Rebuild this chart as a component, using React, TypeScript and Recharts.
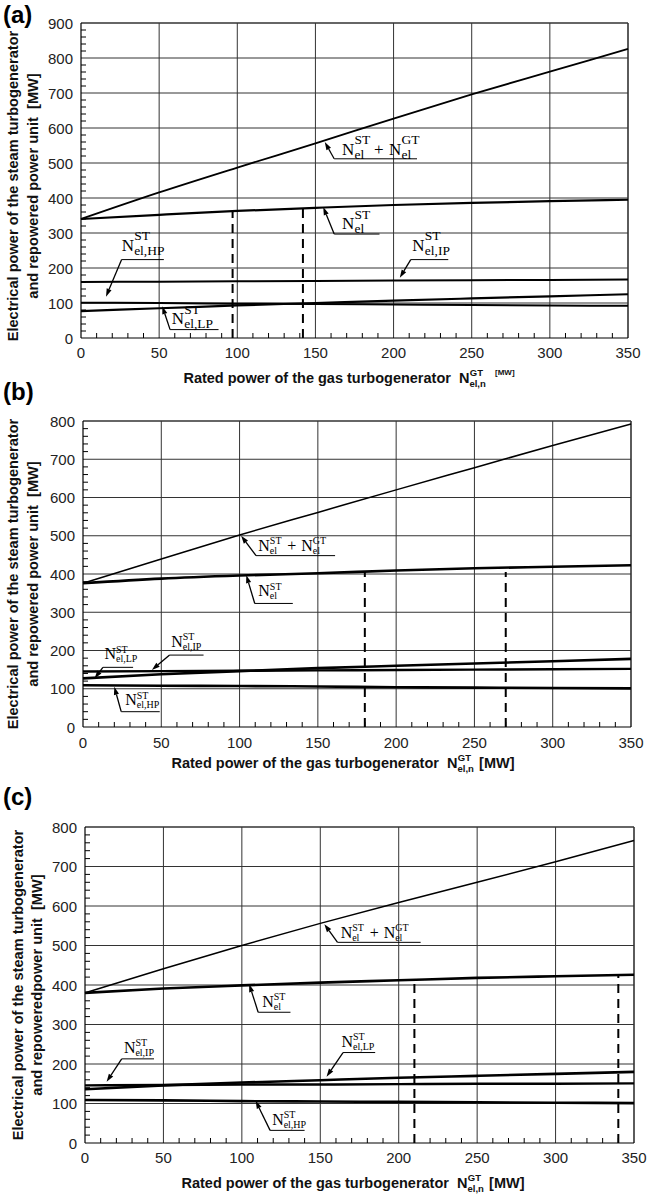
import React from "react";
import { LineChart, Line, XAxis, YAxis, ReferenceLine, ReferenceDot } from "recharts";

// rated power of the gas turbogenerator [MW]
const gasPower = [0, 50, 100, 150, 200, 250, 300, 350];
const xMajor = [0, 50, 100, 150, 200, 250, 300, 350];
const yMajorA = [0, 100, 200, 300, 400, 500, 600, 700, 800, 900];
const yMajorBC = [0, 100, 200, 300, 400, 500, 600, 700, 800];

// panel (a)
const totalA = [340, 416, 487, 556, 627, 696, 761, 826];
const steamA = [340, 352, 363, 372, 380, 386, 391, 395];
const ipA = [160, 161, 162, 163, 164, 165, 166, 167];
const lpA = [77, 85, 93, 100, 107, 113, 119, 125];
const hpA = [101, 100, 98, 97, 96, 94, 93, 92];
const cutA = [97, 142];
const cutTopA = [363, 371];

// panel (b)
const totalB = [376, 439, 502, 561, 620, 678, 736, 792];
const steamB = [376, 388, 396, 402, 409, 415, 419, 423];
const lpB = [127, 138, 146, 154, 160, 166, 172, 178];
const ipB = [145, 146, 147, 148, 149, 150, 151, 152];
const hpB = [109, 108, 107, 106, 104, 103, 102, 101];
const cutB = [180, 270];
const cutTopB = [405, 405];

// panel (c)
const totalC = [380, 441, 500, 556, 609, 660, 712, 766];
const steamC = [380, 391, 399, 406, 412, 418, 422, 426];
const lpC = [136, 146, 153, 159, 165, 170, 175, 180];
const ipC = [146, 147, 148, 148, 149, 150, 150, 151];
const hpC = [109, 108, 106, 105, 104, 103, 102, 101];
const cutC = [210, 340];
const cutTopC = [403, 428];

type Note = { sub: string; sum?: boolean; tip: number[]; elbow: number[]; end: number; text: number[] };

const notesA: Note[] = [
  { sub: "el", sum: true, tip: [156, 560], elbow: [162, 512], end: 215, text: [167, 524] },
  { sub: "el", tip: [155, 374], elbow: [162, 297], end: 191, text: [167, 311] },
  { sub: "el,HP", tip: [16, 118], elbow: [26, 224], end: 53, text: [26, 249] },
  { sub: "el,IP", tip: [204, 172], elbow: [211, 224], end: 235, text: [212, 249] },
  { sub: "el,LP", tip: [52, 91], elbow: [57, 24], end: 88, text: [58, 39] },
];
const notesB: Note[] = [
  { sub: "el", sum: true, tip: [101, 500], elbow: [110.5, 448], end: 161, text: [112, 461] },
  { sub: "el", tip: [104.3, 397], elbow: [109.7, 323], end: 134, text: [112, 342] },
  { sub: "el,LP", tip: [7.4, 127], elbow: [12.7, 156], end: 32, text: [13.7, 177] },
  { sub: "el,IP", tip: [44, 149], elbow: [55.3, 188], end: 77, text: [56.4, 210] },
  { sub: "el,HP", tip: [20, 105], elbow: [24.4, 40], end: 49, text: [27, 57] },
];
const notesC: Note[] = [
  { sub: "el", sum: true, tip: [152.6, 554], elbow: [161, 508], end: 214, text: [163, 520] },
  { sub: "el", tip: [104.7, 402], elbow: [110.4, 331], end: 131, text: [113, 345] },
  { sub: "el,IP", tip: [13.8, 155], elbow: [23.4, 213], end: 44, text: [24.8, 229] },
  { sub: "el,LP", tip: [154, 168], elbow: [164.5, 229], end: 185, text: [163.5, 244] },
  { sub: "el,HP", tip: [108.8, 107], elbow: [118, 32], end: 140, text: [119.3, 46] },
];

const yTitleAB = ["Electrical power of the steam turbogenerator", "and repowered power unit  [MW]"];
const yTitleC = ["Electrical power of the steam turbogenerator", "and repoweredpower unit  [MW]"];

const SANS = '"Liberation Sans", Arial, sans-serif';
const SERIF = '"Liberation Serif", "Times New Roman", serif';

const range = (a: number, b: number, step: number) => {
  const out: number[] = [];
  for (let v = a; v <= b; v += step) out.push(v);
  return out;
};
const merge = (a: number[], b: number[]) => Array.from(new Set([...a, ...b])).sort((p, q) => p - q);

const panels = [
  {
    letter: "(a)", top: 0, height: 395, margin: { top: 23, right: 19, bottom: 7, left: 0 },
    yWidth: 81, xHeight: 50, yMax: 900, yMajor: yMajorA,
    total: totalA, steam: steamA, ip: ipA, lp: lpA, hp: hpA, cut: cutA, cutTop: cutTopA, notes: notesA,
    yTitle: yTitleAB, yTitleX: [13, 33], yTitleCy: 186, tickDy: 14, titleDy: 45, titleX: 349, smallMW: true, big: true,
    letterY: 23, widths: [1.8, 2.2, 2, 2.2, 2],
  },
  {
    letter: "(b)", top: 380, height: 395, margin: { top: 41, right: 16, bottom: 4, left: 0 },
    yWidth: 83, xHeight: 44, yMax: 800, yMajor: yMajorBC,
    total: totalB, steam: steamB, ip: ipB, lp: lpB, hp: hpB, cut: cutB, cutTop: cutTopB, notes: notesB,
    yTitle: yTitleAB, yTitleX: [13, 33], yTitleCy: 0, tickDy: 15, titleDy: 41, titleX: 343, smallMW: false, big: false,
    letterY: 20, widths: [1.5, 2.6, 2.4, 2.6, 2.6],
  },
  {
    letter: "(c)", top: 785, height: 410, margin: { top: 42, right: 13, bottom: 4, left: 0 },
    yWidth: 85, xHeight: 48, yMax: 800, yMajor: yMajorBC,
    total: totalC, steam: steamC, ip: ipC, lp: lpC, hp: hpC, cut: cutC, cutTop: cutTopC, notes: notesC,
    yTitle: yTitleC, yTitleX: [18, 37], yTitleCy: 0, tickDy: 14, titleDy: 45, titleX: 353, smallMW: false, big: false,
    letterY: 20, widths: [1.5, 2.6, 2.4, 2.6, 2.6],
  },
];

function XTick(props: any) {
  const { x, y, payload, labelDy } = props;
  const v = payload.value;
  if (xMajor.includes(v)) {
    return (
      <text x={x} y={y + labelDy} textAnchor="middle" dominantBaseline="central" fontFamily={SANS} fontSize={15} fill="#222">
        {v}
      </text>
    );
  }
  return <line x1={x} x2={x} y1={y} y2={y - 5} stroke="#000" strokeWidth={1} />;
}

function YTick(props: any) {
  const { x, y, payload, major } = props;
  const v = payload.value;
  if (major.includes(v)) {
    return (
      <text x={x - 8} y={y} textAnchor="end" dominantBaseline="central" fontFamily={SANS} fontSize={15} fill="#222">
        {v}
      </text>
    );
  }
  return <line x1={x} x2={x + 5} y1={y} y2={y} stroke="#000" strokeWidth={1} />;
}

function ArrowLine(props: any) {
  const { x1, y1, x2, y2 } = props;
  const dx = x2 - x1;
  const dy = y2 - y1;
  const len = Math.hypot(dx, dy) || 1;
  const ux = dx / len;
  const uy = dy / len;
  const L = 8;
  const W = 2.6;
  const bx = x2 - ux * L;
  const by = y2 - uy * L;
  return (
    <g>
      <line x1={x1} y1={y1} x2={bx} y2={by} stroke="#000" strokeWidth={1.3} />
      <polygon points={`${x2},${y2} ${bx - uy * W},${by + ux * W} ${bx + uy * W},${by - ux * W}`} fill="#000" />
    </g>
  );
}

function NLabel({ cx, cy, note, big }: any) {
  const F = big ? 17 : 16;
  const S = big ? 13.5 : 10;
  const up = big ? 10.5 : 6.5;
  const down = big ? 4 : 3;
  const nw = big ? 12.5 : 11.5;
  const group = (x0: number, sup: string, sub: string) => (
    <>
      <text x={x0} y={cy} fontSize={F}>N</text>
      <text x={x0 + nw} y={cy - up} fontSize={S}>{sup}</text>
      <text x={x0 + nw} y={cy + down} fontSize={S}>{sub}</text>
    </>
  );
  const plusDx = big ? 32 : 29;
  const n2Dx = big ? 47 : 43;
  return (
    <g fontFamily={SERIF} fill="#000">
      {group(cx, "ST", note.sub)}
      {note.sum && (
        <>
          <text x={cx + plusDx} y={cy} fontSize={F}>+</text>
          {group(cx + n2Dx, "GT", "el")}
        </>
      )}
    </g>
  );
}

function Panel({ cfg }: any) {
  const rows = gasPower.map((x, i) => ({
    x,
    total: cfg.total[i],
    steam: cfg.steam[i],
    ip: cfg.ip[i],
    lp: cfg.lp[i],
    hp: cfg.hp[i],
  }));
  const xTicks = merge(range(0, 350, 10), xMajor);
  const yTicks = merge(range(0, cfg.yMax, 20), cfg.yMajor);
  const plotBottom = cfg.height - cfg.margin.bottom - cfg.xHeight;
  const plotTop = cfg.margin.top;

  const xTitle = () => {
    const y = plotBottom + cfg.titleDy;
    return (
      <text x={cfg.titleX} y={y} textAnchor="middle" fontFamily={SANS} fontWeight="bold" fontSize={14.5} fill="#111" style={{ whiteSpace: "pre" }}>
        {"Rated power of the gas turbogenerator  N"}
        <tspan fontSize={9.5} dy={4}>el,n</tspan>
        <tspan fontSize={9.5} dx={-16} dy={-11}>GT</tspan>
        {cfg.smallMW ? (
          <tspan fontSize={8} dx={12} dy={-1}>[MW]</tspan>
        ) : (
          <tspan fontSize={14.5} dy={7}>{"  [MW]"}</tspan>
        )}
      </text>
    );
  };

  const yTitle = () => {
    const cy = cfg.yTitleCy || (plotTop + plotBottom) / 2;
    return (
      <g>
        {cfg.yTitle.map((t: string, i: number) => {
          const x = cfg.yTitleX[i];
          return (
            <text key={i} x={x} y={cy} transform={`rotate(-90 ${x} ${cy})`} textAnchor="middle" dominantBaseline="central"
              fontFamily={SANS} fontWeight="bold" fontSize={14.6} fill="#111" style={{ whiteSpace: "pre" }}>
              {t}
            </text>
          );
        })}
      </g>
    );
  };

  const keys = ["total", "steam", "ip", "lp", "hp"];

  return (
    <div style={{ position: "absolute", left: 0, top: cfg.top, width: 647, height: cfg.height }}>
      <LineChart width={647} height={cfg.height} data={rows} margin={cfg.margin}>
        <XAxis dataKey="x" type="number" domain={[0, 350]} ticks={xTicks} interval={0} tickLine={false} tickSize={0} tickMargin={0}
          axisLine={{ stroke: "#000", strokeWidth: 1.2 }} height={cfg.xHeight}
          tick={(p: any) => <XTick {...p} labelDy={cfg.tickDy} />} label={{ content: xTitle }} />
        <YAxis type="number" domain={[0, cfg.yMax]} ticks={yTicks} interval={0} tickLine={false} tickSize={0} tickMargin={0}
          axisLine={{ stroke: "#000", strokeWidth: 1.2 }} width={cfg.yWidth}
          tick={(p: any) => <YTick {...p} major={cfg.yMajor} />} label={{ content: yTitle }} />
        {xMajor.filter((v) => v > 0).map((v) => (
          <ReferenceLine key={"gx" + v} x={v} stroke="#333" strokeWidth={v === 350 ? 1.6 : 1} />
        ))}
        {cfg.yMajor.filter((v: number) => v > 0).map((v: number) => (
          <ReferenceLine key={"gy" + v} y={v} stroke="#333" strokeWidth={v === cfg.yMax ? 1.4 : 1} />
        ))}
        {cfg.cut.map((c: number, i: number) => (
          <ReferenceLine key={"cut" + c} segment={[{ x: c, y: 0 }, { x: c, y: cfg.cutTop[i] }]} stroke="#000" strokeWidth={2} strokeDasharray="9 6" />
        ))}
        {keys.map((k, i) => (
          <Line key={k} dataKey={k} type="monotone" stroke="#000" strokeWidth={cfg.widths[i]} dot={false} activeDot={false} isAnimationActive={false} />
        ))}
        {cfg.notes.map((n: Note, i: number) => (
          <ReferenceLine key={"lead" + i} segment={[{ x: n.elbow[0], y: n.elbow[1] }, { x: n.tip[0], y: n.tip[1] }]} shape={(p: any) => <ArrowLine {...p} />} />
        ))}
        {cfg.notes.map((n: Note, i: number) => (
          <ReferenceLine key={"under" + i} segment={[{ x: n.elbow[0], y: n.elbow[1] }, { x: n.end, y: n.elbow[1] }]} stroke="#000" strokeWidth={1} />
        ))}
        {cfg.notes.map((n: Note, i: number) => (
          <ReferenceDot key={"txt" + i} x={n.text[0]} y={n.text[1]} r={0}
            shape={(p: any) => <NLabel cx={p.cx} cy={p.cy} note={n} big={cfg.big} />} />
        ))}
      </LineChart>
      <svg width={60} height={40} style={{ position: "absolute", left: 0, top: -6, overflow: "visible" }}>
        <text x={3} y={cfg.letterY + 6} fontFamily={SANS} fontWeight="bold" fontSize={24} fill="#000">
          {cfg.letter}
        </text>
      </svg>
    </div>
  );
}

export default function App() {
  return (
    <div style={{ position: "absolute", left: 0, top: 0, width: 647, height: 1195, background: "#fff" }}>
      {panels.map((p) => (
        <Panel key={p.letter} cfg={p} />
      ))}
    </div>
  );
}
